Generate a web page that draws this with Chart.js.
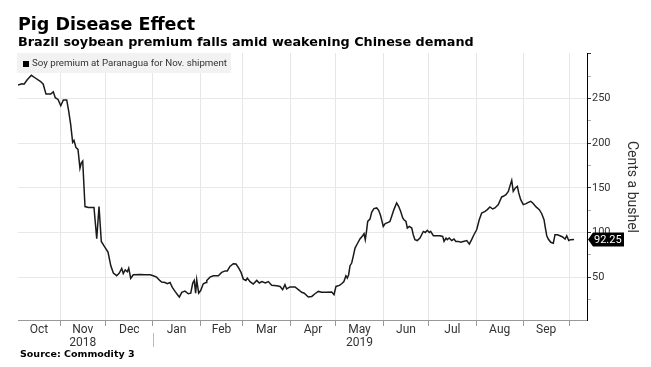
<!DOCTYPE html>
<html>
<head>
<meta charset="utf-8">
<script src="https://cdn.jsdelivr.net/npm/chart.js@4/dist/chart.umd.min.js"></script>
<style>
  body { margin: 0; background: #fff; }
  #wrap { position: relative; width: 651px; height: 367px; }
</style>
</head>
<body>
<div id="wrap"><canvas id="chart"></canvas></div>
<script>
// days since 1 Oct 2018
const dayOffsets = [3.4, 6, 7.4, 9.5, 12.2, 14.8, 18.3, 20, 21.8, 24.9, 26.6, 27.9, 29.7, 31.5, 33.2, 35.4, 36.7, 38, 39.3, 40.2,
    41.5, 42.8, 44.1, 45, 45.9,
    47.4, 49.6, 53.3, 55.1, 56.6, 58.1, 60.3, 62.5, 64.3, 66, 68.2, 69.9, 71.5, 72.5, 73.8, 75.2, 76.1, 77.4, 79.1, 83.5, 86.8, 90.1,
    92.2, 94.4, 96.6, 97.7, 99.9, 101.4, 103.2, 104.7, 106.5, 108, 109.3, 110.9, 113, 115.2, 116.8, 118.1, 119.1, 120, 120.7, 122,
    123.3, 125, 126.8, 127.3, 129.4, 131.6, 134.9, 137.1, 139.3, 140.8, 142.5, 144.7, 146.5, 148.3, 149.8, 151.3, 153, 153.9, 155.7, 157.8,
    160.1, 161.8, 163.5, 165.7, 167.7, 169.9, 173.2, 175.4, 177.1, 178.6, 179.7, 181.9, 185.2, 187.4, 189.6, 191.3, 193.9, 196.2, 198.3, 200.5,
    202.7, 206, 209.3, 210.8, 212.1, 214.3,
    215.8, 217.3, 218.6, 219.5, 220.4, 221.3, 222.4, 223.4, 224.6, 226.1, 227.8, 229.6, 230.5, 231.3, 232.2, 232.9, 234.4, 235.5, 237, 238.8,
    240.1, 241.4, 242.3, 243.1, 244.4, 246.4, 247.5, 248.6, 250.1, 251.9, 253.2, 254.5, 255.9, 256.7, 258, 258.9, 260.2, 261.8, 262.8, 263.9,
    265.4, 267.2, 268.3, 269.4, 270.7, 272, 273.3, 274.2, 276, 278.2, 280.3, 282.1, 283, 284.3, 285.1, 286.4, 288, 289.5, 290.8, 292.4,
    293.9, 295.6, 297.9, 299.6,
    301.1, 302.6, 304.4, 306.1, 307.7, 309.9, 311.4, 313.1, 314.9, 316.4, 318.6, 320.8, 321.9, 323.6, 325.2, 326.3, 327.4, 328.4, 329.8, 331.1,
    332, 333.3, 335, 336.8, 338.3, 339.9, 341.2, 343.4, 345.5, 347.1, 348.6, 349.5, 350.4, 351.4, 353, 354.7, 355.8, 357.3, 359.1, 360.8,
    362.4, 363.5, 364.8, 366.1, 368.3];

// cents a bushel
const premium = [265, 266.5, 266, 271, 276, 273, 269, 266, 255, 255, 257.5, 251, 249, 242, 248.5, 248.5, 236, 221, 201, 203,
    195, 193, 172, 178, 180,
    129, 128, 128, 93, 129, 90, 84, 78, 63, 54.6, 51.6, 54.6, 59.8, 54, 58, 56, 60, 48.6, 52.7, 53, 52.7, 52.7,
    51.6, 50, 46, 44.5, 44, 42.6, 44, 38.5, 34, 30.6, 27.7, 33, 34.4, 31.4, 32, 43.4, 46.3, 32, 47, 32,
    35, 42.6, 44, 46.3, 50, 51.6, 51.6, 55.3, 57, 57, 62, 65, 64.7, 60, 55.3, 47.8, 46.3, 49, 45, 42.2,
    46.3, 43.4, 45, 43.4, 45, 41, 40.4, 39.6, 36, 41.5, 36.7, 39, 39, 36, 33, 32, 27.7, 28.4, 31.4, 34,
    33, 33, 33.3, 30.3, 39.6, 40.7,
    42.6, 45, 51.6, 49, 52.7, 62.8, 65.8, 73.2, 82.6, 87.4, 92.7, 96.4, 98.7, 92, 102.4, 112.4, 115, 122.5, 126.7, 127.5,
    124.8, 118.8, 112.4, 106.8, 109.9, 111.3, 112.4, 118, 125.6, 133, 129.3, 123.7, 116.3, 114.3, 112.4, 105, 106.8, 105, 97.5, 92,
    91, 93.8, 97.5, 101.2, 100, 102.4, 100, 101.2, 96.4, 96.4, 96.4, 95.6, 90, 93.8, 92, 93.8, 91, 92.7, 90, 90,
    89, 90, 91, 87,
    92, 97.5, 103, 114.3, 121.8, 123.7, 125.6, 128.6, 126.3, 127.5, 131.2, 139.8, 140.5, 142.4, 146, 152.5, 158.4, 146, 149.9, 151.7,
    144.3, 136.8, 131.2, 132.3, 133.7, 134.9, 133, 128.6, 125.6, 121, 114.3, 105, 96.4, 92.7, 89, 88, 97.5, 97.5, 96.4, 95,
    92.7, 96.4, 91, 92, 92.25];

// month boundaries (days since 1 Oct 2018) and label positions
const monthStarts = [31, 61, 92, 123, 151, 182, 212, 243, 273, 304, 335, 365];
const monthMids = [17.2, 46, 76.5, 107.5, 137, 166.5, 197, 227.5, 258, 288.5, 319.5, 350];
const monthLabels = ['Oct', ['Nov', '2018'], 'Dec', 'Jan', 'Feb', 'Mar', 'Apr', ['May', '2019'], 'Jun', 'Jul', 'Aug', 'Sep'];
const yearSplitDay = 92;

const yTicks = [25, 50, 75, 100, 125, 150, 175, 200, 225, 250, 275, 300];
const yLabels = [50, 100, 150, 200, 250];

const xMin = 3.44, xMax = 376.8;

const points = dayOffsets.map((d, i) => ({ x: d, y: premium[i] }));

const textPlugin = {
    id: 'bbgText',
    beforeDatasetsDraw(chart) {
        const ctx = chart.ctx;
        // legend box
        ctx.save();
        ctx.fillStyle = '#f2f2f2';
        ctx.fillRect(17, 53, 214, 20);
        ctx.fillStyle = '#000';
        ctx.fillRect(23, 61, 6, 6);
        ctx.fillStyle = '#333';
        ctx.font = '9.7px Roboto';
        ctx.textBaseline = 'middle';
        ctx.fillText('Soy premium at Paranagua for Nov. shipment', 32, 64);
        ctx.restore();
    },
    afterDraw(chart) {
        const ctx = chart.ctx;
        const x = chart.scales.x, y = chart.scales.y;
        ctx.save();
        ctx.fillStyle = '#000';
        ctx.textBaseline = 'alphabetic';
        ctx.font = 'bold 17.5px "DejaVu Sans"';
        ctx.fillText('Pig Disease Effect', 18, 30);
        ctx.font = 'bold 12.8px "DejaVu Sans"';
        ctx.fillText('Brazil soybean premium falls amid weakening Chinese demand', 18, 46);
        ctx.font = 'bold 9.5px "DejaVu Sans"';
        ctx.fillText('Source: Commodity 3', 20, 357);

        // year separator
        const sx = Math.round(x.getPixelForValue(yearSplitDay)) + 0.5;
        ctx.strokeStyle = '#bbb';
        ctx.lineWidth = 1;
        ctx.beginPath();
        ctx.moveTo(sx, 333);
        ctx.lineTo(sx, 347);
        ctx.stroke();

        // axis title
        ctx.save();
        ctx.translate(631, 187);
        ctx.rotate(Math.PI / 2);
        ctx.fillStyle = '#333';
        ctx.font = '14px Roboto';
        ctx.textAlign = 'center';
        ctx.textBaseline = 'middle';
        ctx.fillText('Cents a bushel', 0, 0);
        ctx.restore();

        // last value tag
        const last = premium[premium.length - 1];
        const ty = y.getPixelForValue(last);
        const left = chart.chartArea.right + 1;
        ctx.fillStyle = '#000';
        ctx.beginPath();
        ctx.moveTo(left, ty);
        ctx.lineTo(left + 5, ty - 7);
        ctx.lineTo(left + 36, ty - 7);
        ctx.lineTo(left + 36, ty + 7);
        ctx.lineTo(left + 5, ty + 7);
        ctx.closePath();
        ctx.fill();
        ctx.fillStyle = '#fff';
        ctx.font = '11px Roboto';
        ctx.textAlign = 'left';
        ctx.textBaseline = 'middle';
        ctx.fillText(last.toFixed(2), left + 6, ty + 0.5);
        ctx.restore();
    }
};

const chart = new Chart(document.getElementById('chart'), {
    type: 'line',
    data: {
        datasets: [{
            data: points,
            borderColor: '#1a1a1a',
            borderWidth: 1.5,
            pointRadius: 0,
            tension: 0
        }]
    },
    options: {
        responsive: true,
        maintainAspectRatio: false,
        animation: false,
        layout: { padding: { left: 18, top: 53, right: 0, bottom: 0 } },
        plugins: {
            legend: { display: false },
            tooltip: { enabled: false }
        },
        scales: {
            x: {
                type: 'linear',
                min: xMin,
                max: xMax,
                afterBuildTicks: s => {
                    const t = monthStarts.filter(v => v > xMin && v < xMax).concat(monthMids);
                    s.ticks = t.sort((a, b) => a - b).map(v => ({ value: v }));
                },
                afterFit: s => { s.height = 47; },
                ticks: {
                    autoSkip: false,
                    maxRotation: 0,
                    padding: -3,
                    color: '#333',
                    font: { family: 'Roboto', size: 12, lineHeight: 1.1 },
                    callback: v => {
                        const i = monthMids.indexOf(v);
                        return i >= 0 ? monthLabels[i] : '';
                    }
                },
                grid: {
                    color: c => (c.tick && monthStarts.includes(c.tick.value)) ? '#e6e6e6' : 'rgba(0,0,0,0)',
                    tickColor: c => (c.tick && monthStarts.includes(c.tick.value)) ? '#999' : 'rgba(0,0,0,0)',
                    tickLength: 6
                },
                border: { color: '#999' }
            },
            y: {
                position: 'right',
                min: 2,
                max: 301,
                afterBuildTicks: s => { s.ticks = yTicks.map(v => ({ value: v })); },
                afterFit: s => { s.width = 64; },
                ticks: {
                    autoSkip: false,
                    padding: 1,
                    color: '#333',
                    font: { family: 'Roboto', size: 11 },
                    callback: v => yLabels.includes(v) ? v : ''
                },
                grid: {
                    color: c => (c.tick && yLabels.includes(c.tick.value)) ? '#e8e8e8' : 'rgba(0,0,0,0)',
                    tickColor: c => (c.tick && c.tick.value % 50 === 0) ? '#333' : '#aaa',
                    tickLength: 4
                },
                border: { color: '#000' }
            }
        }
    },
    plugins: [textPlugin]
});
</script>
</body>
</html>
